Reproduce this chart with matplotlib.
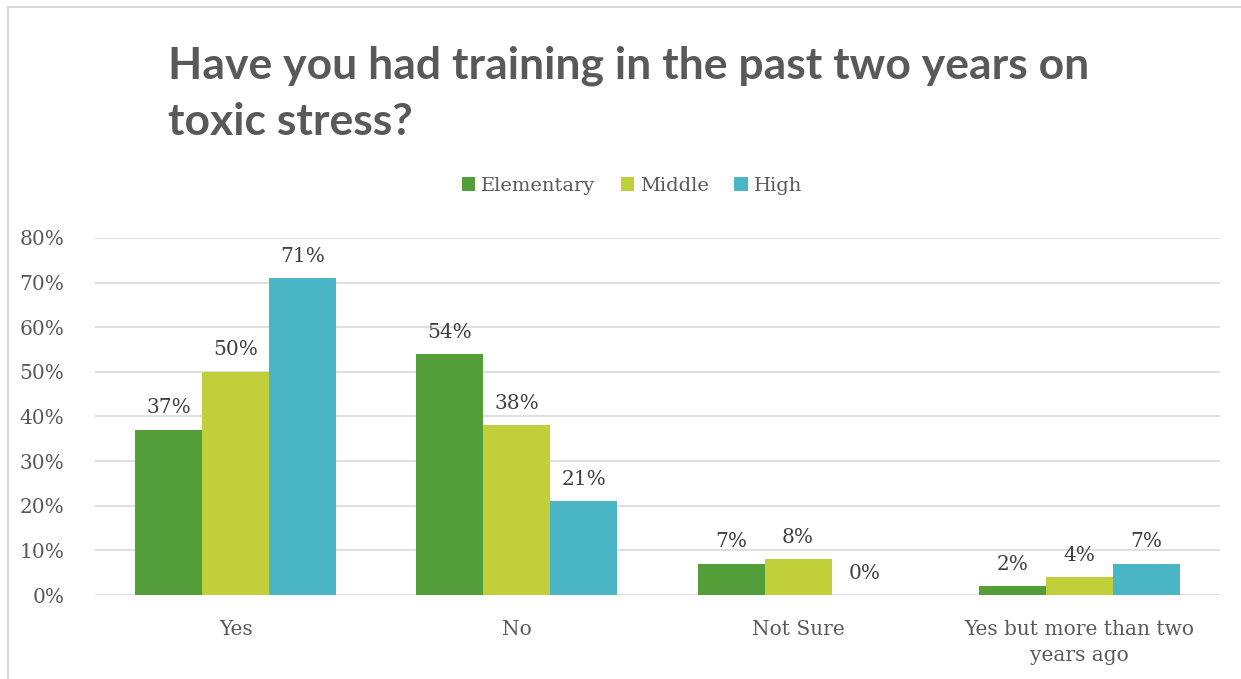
import matplotlib.pyplot as plt
import numpy as np
from matplotlib.patches import Rectangle

categories = ['Yes', 'No', 'Not Sure', 'Yes but more than two\nyears ago']
series = ['Elementary', 'Middle', 'High']
elementary = [37, 54, 7, 2]
middle = [50, 38, 8, 4]
high = [71, 21, 0, 7]
colors = ['#549E39', '#C0CF3A', '#4AB5C4']

plt.rcParams['font.family'] = ['DejaVu Serif']

fig = plt.figure(figsize=(12.41, 6.79), dpi=100)
ax = fig.add_axes([0.0766, 0.1237, 0.9064, 0.5258])

# chart border (top and left only visible)
fig.patches.append(Rectangle((8 / 1241, -0.01), 1.0, 1 - 7 / 679 + 0.01,
                             transform=fig.transFigure, fill=False,
                             edgecolor='#D9D9D9', linewidth=1.5))

x = np.arange(len(categories))
w = 0.238
for i, (name, vals) in enumerate(zip(series, [elementary, middle, high])):
    pos = x + (i - 1) * w
    ax.bar(pos, vals, width=w, color=colors[i], label=name, zorder=3)
    for p, v in zip(pos, vals):
        ax.text(p, v + 2.8, f'{v}%', ha='center', va='bottom',
                fontsize=14.5, color='#404040')

ax.set_xlim(-0.5, 3.5)
ax.set_ylim(0, 80)
ax.set_yticks(range(0, 81, 10))
ax.set_yticklabels([f'{t}%' for t in range(0, 81, 10)])
ax.set_xticks(x)
ax.set_xticklabels(categories, linespacing=1.45)
ax.tick_params(axis='both', length=0, labelsize=14.5, colors='#595959')
ax.tick_params(axis='y', pad=22)
ax.tick_params(axis='x', pad=18)
ax.grid(axis='y', color='#D9D9D9', linewidth=1.2, zorder=0)
for s in ax.spines.values():
    s.set_visible(False)

fig.text(168 / 1241, 1 - 78 / 679, 'Have you had training in the past two years on',
         fontsize=32, fontweight='bold', family='Lato', color='#595959',
         ha='left', va='baseline')
fig.text(168 / 1241, 1 - 135 / 679, 'toxic stress?',
         fontsize=32, fontweight='bold', family='Lato', color='#595959',
         ha='left', va='baseline')

fig.legend(loc='center', bbox_to_anchor=(632 / 1241, 1 - 186 / 679), ncol=3,
           frameon=False, fontsize=14, labelcolor='#595959',
           handlelength=0.7, handleheight=0.7, handletextpad=0.3, columnspacing=1.3)

fig.savefig('out.png', dpi=100, facecolor='white')
